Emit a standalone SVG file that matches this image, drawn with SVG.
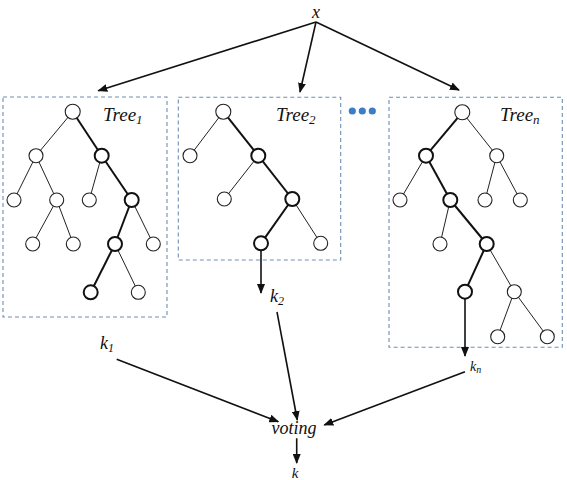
<svg xmlns="http://www.w3.org/2000/svg" width="567" height="480" viewBox="0 0 567 480">
<style>
.box{fill:none;stroke:#6f8fb3;stroke-width:1.1;stroke-dasharray:4 3}
.e{stroke:#222;stroke-width:1}
.eb{stroke:#111;stroke-width:2}
.n{fill:#fff;stroke:#222;stroke-width:1.1}
.nb{fill:#fff;stroke:#111;stroke-width:2}
.lbl{font-family:"Liberation Serif",serif;font-style:italic;fill:#111}
.c{stroke:#111;stroke-width:1.6;fill:none}
</style>
<defs>
<marker id="ah" markerWidth="10" markerHeight="8" refX="9" refY="4" orient="auto" markerUnits="userSpaceOnUse">
<path d="M0,0 L10,4 L0,8 Z" fill="#111"/>
</marker>
</defs>
<rect width="567" height="480" fill="#fff"/>

<g id="x"><text class="lbl" x="316" y="18" font-size="18" text-anchor="middle">x</text></g>

<g id="tree1">
<rect class="box" x="3" y="97" width="164" height="220"/>
<text class="lbl" x="103" y="121" font-size="19">Tree<tspan font-size="13" dy="3">1</tspan></text>
<line class="e" x1="72.7" y1="111.7" x2="36" y2="155.7"/>
<line class="eb" x1="72.7" y1="111.7" x2="101.7" y2="155.7"/>
<line class="e" x1="36" y1="155.7" x2="14" y2="200"/>
<line class="e" x1="36" y1="155.7" x2="56.7" y2="200"/>
<line class="e" x1="56.7" y1="200" x2="32.7" y2="244"/>
<line class="e" x1="56.7" y1="200" x2="73.3" y2="244"/>
<line class="e" x1="101.7" y1="155.7" x2="89.3" y2="200"/>
<line class="eb" x1="101.7" y1="155.7" x2="131.7" y2="200"/>
<line class="eb" x1="131.7" y1="200" x2="115" y2="244"/>
<line class="e" x1="131.7" y1="200" x2="153.3" y2="244"/>
<line class="eb" x1="115" y1="244" x2="90.7" y2="292.3"/>
<line class="e" x1="115" y1="244" x2="138.3" y2="292.3"/>
<circle class="n" cx="72.7" cy="111.7" r="7.5"/>
<circle class="n" cx="36" cy="155.7" r="7"/>
<circle class="nb" cx="101.7" cy="155.7" r="7"/>
<circle class="n" cx="14" cy="200" r="7"/>
<circle class="n" cx="56.7" cy="200" r="7"/>
<circle class="n" cx="89.3" cy="200" r="7"/>
<circle class="nb" cx="131.7" cy="200" r="7"/>
<circle class="n" cx="32.7" cy="244" r="7"/>
<circle class="n" cx="73.3" cy="244" r="7"/>
<circle class="nb" cx="115" cy="244" r="7"/>
<circle class="n" cx="153.3" cy="244" r="7"/>
<circle class="nb" cx="90.7" cy="292.3" r="7"/>
<circle class="n" cx="138.3" cy="292.3" r="7"/>
</g>

<g id="tree2">
<rect class="box" x="178.3" y="97.3" width="162.4" height="162.7"/>
<text class="lbl" x="276" y="121" font-size="19">Tree<tspan font-size="13" dy="3">2</tspan></text>
<line class="e" x1="223.3" y1="111.7" x2="190" y2="155.7"/>
<line class="eb" x1="223.3" y1="111.7" x2="258.3" y2="155.7"/>
<line class="e" x1="258.3" y1="155.7" x2="224.3" y2="199"/>
<line class="eb" x1="258.3" y1="155.7" x2="292.3" y2="199"/>
<line class="eb" x1="292.3" y1="199" x2="261" y2="243.3"/>
<line class="e" x1="292.3" y1="199" x2="320.7" y2="243.3"/>
<circle class="n" cx="223.3" cy="111.7" r="7.5"/>
<circle class="n" cx="190" cy="155.7" r="7"/>
<circle class="nb" cx="258.3" cy="155.7" r="7"/>
<circle class="n" cx="224.3" cy="199" r="7"/>
<circle class="nb" cx="292.3" cy="199" r="7"/>
<circle class="nb" cx="261" cy="243.3" r="7"/>
<circle class="n" cx="320.7" cy="243.3" r="7"/>
</g>

<g id="dots" fill="#3b7dc6">
<circle cx="352.3" cy="111" r="3.6"/>
<circle cx="362.3" cy="111" r="3.6"/>
<circle cx="372.3" cy="111" r="3.6"/>
</g>

<g id="treen">
<rect class="box" x="389" y="97.3" width="173.3" height="250"/>
<text class="lbl" x="500" y="121" font-size="19">Tree<tspan font-size="13" dy="3">n</tspan></text>
<line class="eb" x1="462.3" y1="112.3" x2="426" y2="155.7"/>
<line class="e" x1="462.3" y1="112.3" x2="496.7" y2="155.7"/>
<line class="e" x1="426" y1="155.7" x2="400" y2="200"/>
<line class="eb" x1="426" y1="155.7" x2="450.3" y2="200"/>
<line class="e" x1="496.7" y1="155.7" x2="485" y2="200"/>
<line class="e" x1="496.7" y1="155.7" x2="520.3" y2="200"/>
<line class="e" x1="450.3" y1="200" x2="440" y2="244"/>
<line class="eb" x1="450.3" y1="200" x2="486.7" y2="244"/>
<line class="eb" x1="486.7" y1="244" x2="465" y2="291.7"/>
<line class="e" x1="486.7" y1="244" x2="514.3" y2="291.7"/>
<line class="e" x1="514.3" y1="291.7" x2="497.7" y2="336.7"/>
<line class="e" x1="514.3" y1="291.7" x2="547.3" y2="336.7"/>
<circle class="n" cx="462.3" cy="112.3" r="7.5"/>
<circle class="nb" cx="426" cy="155.7" r="7"/>
<circle class="n" cx="496.7" cy="155.7" r="7"/>
<circle class="n" cx="400" cy="200" r="7"/>
<circle class="nb" cx="450.3" cy="200" r="7"/>
<circle class="n" cx="485" cy="200" r="7"/>
<circle class="n" cx="520.3" cy="200" r="7"/>
<circle class="n" cx="440" cy="244" r="7"/>
<circle class="nb" cx="486.7" cy="244" r="7"/>
<circle class="nb" cx="465" cy="291.7" r="7"/>
<circle class="n" cx="514.3" cy="291.7" r="7"/>
<circle class="n" cx="497.7" cy="336.7" r="7"/>
<circle class="n" cx="547.3" cy="336.7" r="7"/>
</g>

<g id="k1"><text class="lbl" x="100" y="349" font-size="18">k<tspan font-size="12" dy="3">1</tspan></text></g>
<g id="k2"><text class="lbl" x="270" y="302" font-size="18">k<tspan font-size="12" dy="3">2</tspan></text></g>
<g id="kn"><text class="lbl" x="470" y="371" font-size="14">k<tspan font-size="10" dy="2">n</tspan></text></g>
<g id="voting"><text class="lbl" x="294" y="434" font-size="18" text-anchor="middle">voting</text></g>
<g id="k"><text class="lbl" x="295" y="478" font-size="15" text-anchor="middle">k</text></g>

<g id="connectors">
<line class="c" x1="316" y1="22" x2="98.3" y2="90.7" marker-end="url(#ah)"/>
<line class="c" x1="316" y1="22" x2="300" y2="92" marker-end="url(#ah)"/>
<line class="c" x1="316" y1="22" x2="459" y2="90" marker-end="url(#ah)"/>
<line class="c" x1="261" y1="251" x2="261" y2="293" marker-end="url(#ah)"/>
<line class="c" x1="465" y1="299" x2="465" y2="356" marker-end="url(#ah)"/>
<line class="c" x1="116.7" y1="359.3" x2="278.3" y2="421.7" marker-end="url(#ah)"/>
<line class="c" x1="277" y1="312" x2="297.3" y2="420" marker-end="url(#ah)"/>
<line class="c" x1="465" y1="371.7" x2="324.3" y2="425" marker-end="url(#ah)"/>
<line class="c" x1="296.7" y1="438.3" x2="296.7" y2="463" marker-end="url(#ah)"/>
</g>
</svg>
